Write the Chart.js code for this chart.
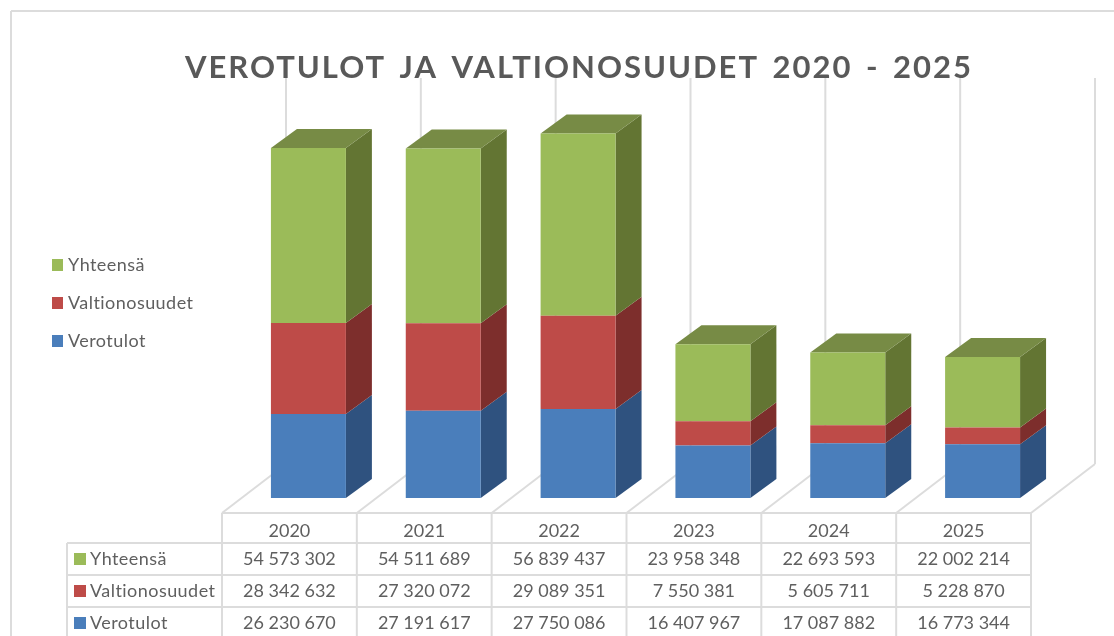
<!DOCTYPE html>
<html>
<head>
<meta charset="utf-8">
<title>Verotulot ja valtionosuudet 2020 - 2025</title>
<script src="https://cdn.jsdelivr.net/npm/chart.js@4"></script>
<style>
    html, body { margin: 0; padding: 0; background: #fff; }
    canvas { display: block; }
</style>
</head>
<body>
<canvas id="taxChart" width="1114" height="636"></canvas>
<script>
const chartTitle = 'VEROTULOT JA VALTIONOSUUDET 2020 - 2025';
const years = ['2020', '2021', '2022', '2023', '2024', '2025'];
const verotulot = [26230670, 27191617, 27750086, 16407967, 17087882, 16773344];
const valtionosuudet = [28342632, 27320072, 29089351, 7550381, 5605711, 5228870];
const yhteensa = [54573302, 54511689, 56839437, 23958348, 22693593, 22002214];

const lineColor = '#dcdcdc';
const textColor = '#5f5f5f';
const bodyFont = '18px Lato';

const seriesList = [
    { label: 'Verotulot', data: verotulot, front: '#4a7ebb', side: '#2f527f', top: '#3c6596' },
    { label: 'Valtionosuudet', data: valtionosuudet, front: '#be4b48', side: '#7d2e2c', top: '#953b39' },
    { label: 'Yhteensä', data: yhteensa, front: '#9bbb59', side: '#637533', top: '#778b45' }
];

// depth of the fake 3D look
const barDepth = { x: 26, y: 19 };
const floorDepth = { x: 64, y: 49 };
// the columns stand further back than the table cells below them
const tableShift = 19;

function formatNumber(value) {
    return String(value).replace(/\B(?=(\d{3})+$)/g, ' ');
}

function strokeLine(ctx, x1, y1, x2, y2) {
    ctx.beginPath();
    ctx.moveTo(x1, y1);
    ctx.lineTo(x2, y2);
    ctx.stroke();
}

function fillShape(ctx, color, points) {
    ctx.fillStyle = color;
    ctx.beginPath();
    points.forEach((p, i) => i ? ctx.lineTo(p[0], p[1]) : ctx.moveTo(p[0], p[1]));
    ctx.closePath();
    ctx.fill();
}

// Walls, floor and chart frame go behind the bars
const wallsPlugin = {
    id: 'walls',
    beforeDatasetsDraw(chart) {
        const { ctx, scales: { x, y } } = chart;
        const step = (x.right - x.left) / years.length;
        const tableTop = y.bottom + 15;

        ctx.save();
        ctx.strokeStyle = lineColor;
        ctx.lineWidth = 2;
        strokeLine(ctx, 11, 636, 11, 11);
        strokeLine(ctx, 11, 11, 1114, 11);
        for (let i = 0; i <= years.length; i++) {
            const px = x.left - tableShift + i * step;
            strokeLine(ctx, px, tableTop, px + floorDepth.x, tableTop - floorDepth.y);
            strokeLine(ctx, px + floorDepth.x, tableTop - floorDepth.y, px + floorDepth.x, y.top);
        }
        ctx.restore();
    }
};

// Side and top faces of the columns
const barSidesPlugin = {
    id: 'barSides',
    beforeDatasetsDraw(chart) {
        const { ctx } = chart;
        ctx.save();
        seriesList.forEach((series, d) => {
            chart.getDatasetMeta(d).data.forEach(bar => {
                const right = bar.x + bar.width / 2;
                const left = bar.x - bar.width / 2;
                fillShape(ctx, series.side, [
                    [right, bar.y],
                    [right + barDepth.x, bar.y - barDepth.y],
                    [right + barDepth.x, bar.base - barDepth.y],
                    [right, bar.base]
                ]);
                if (d === seriesList.length - 1) {
                    fillShape(ctx, series.top, [
                        [left, bar.y],
                        [left + barDepth.x, bar.y - barDepth.y],
                        [right + barDepth.x, bar.y - barDepth.y],
                        [right, bar.y]
                    ]);
                }
            });
        });
        ctx.restore();
    }
};

// Data table under the chart, top row first
const dataTablePlugin = {
    id: 'dataTable',
    afterDraw(chart) {
        const { ctx, scales: { x, y } } = chart;
        const step = (x.right - x.left) / years.length;
        const tableTop = y.bottom + 15;
        const tableLeft = 67;
        const tableStart = x.left - tableShift;
        const tableEnd = x.right - tableShift;
        const rowLines = [543, 575, 607];
        const rowText = [559, 591, 623];
        const rows = seriesList.slice().reverse();

        ctx.save();
        ctx.strokeStyle = lineColor;
        ctx.lineWidth = 2;
        strokeLine(ctx, tableStart, tableTop, tableEnd, tableTop);
        rowLines.forEach(ly => strokeLine(ctx, tableLeft, ly, tableEnd, ly));
        strokeLine(ctx, tableLeft, rowLines[0], tableLeft, 636);
        for (let i = 0; i <= years.length; i++) {
            const px = tableStart + i * step;
            strokeLine(ctx, px, tableTop, px, 636);
        }

        ctx.font = bodyFont;
        ctx.textBaseline = 'middle';
        rows.forEach((series, r) => {
            ctx.fillStyle = series.front;
            ctx.fillRect(74, rowText[r] - 6, 12, 12);
            ctx.fillStyle = textColor;
            ctx.textAlign = 'left';
            ctx.letterSpacing = '0.45px';
            ctx.fillText(series.label, 90, rowText[r]);
            ctx.letterSpacing = '0px';
            ctx.textAlign = 'center';
            series.data.forEach((value, i) => {
                ctx.fillText(formatNumber(value), x.getPixelForValue(i) - tableShift, rowText[r]);
            });
        });

        // legend on the left
        const legendY = [265, 303, 341];
        ctx.textAlign = 'left';
        ctx.letterSpacing = '0.45px';
        rows.forEach((series, r) => {
            ctx.fillStyle = series.front;
            ctx.fillRect(52, legendY[r] - 6, 11, 12);
            ctx.fillStyle = textColor;
            ctx.fillText(series.label, 68, legendY[r]);
        });

        // title
        ctx.font = 'bold 31px Lato';
        ctx.letterSpacing = '2px';
        ctx.wordSpacing = '4px';
        ctx.textAlign = 'center';
        ctx.fillStyle = '#595959';
        ctx.fillText(chartTitle, 579, 68);
        ctx.restore();
    }
};

new Chart(document.getElementById('taxChart'), {
    type: 'bar',
    data: {
        labels: years,
        datasets: seriesList.map(series => ({
            label: series.label,
            data: series.data,
            backgroundColor: series.front,
            borderWidth: 0,
            categoryPercentage: 1,
            barPercentage: 0.556
        }))
    },
    options: {
        responsive: false,
        animation: false,
        layout: {
            padding: { left: 241, right: 64, top: 78, bottom: 0 }
        },
        plugins: {
            legend: { display: false },
            title: { display: false },
            tooltip: { enabled: false }
        },
        scales: {
            x: {
                stacked: true,
                grid: { display: false, drawTicks: false },
                border: { display: false },
                ticks: { color: textColor, font: { family: 'Lato', size: 18 }, padding: 22, maxRotation: 0, labelOffset: -tableShift },
                afterFit(axis) { axis.height = 138; }
            },
            y: {
                stacked: true,
                display: false,
                min: 0,
                max: 131000000
            }
        }
    },
    plugins: [wallsPlugin, barSidesPlugin, dataTablePlugin]
});
</script>
</body>
</html>
